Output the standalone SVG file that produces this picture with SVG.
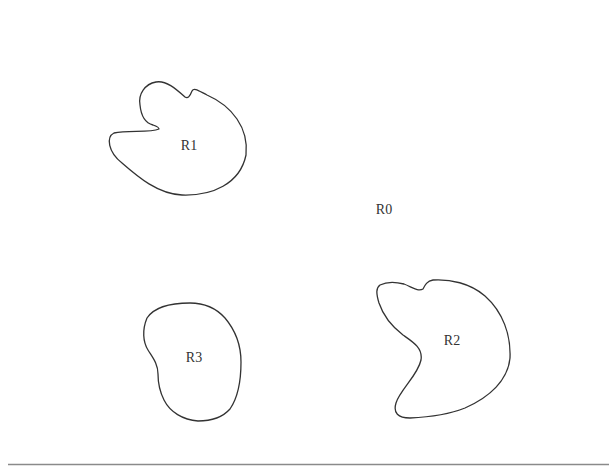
<svg xmlns="http://www.w3.org/2000/svg" width="609" height="466" viewBox="0 0 609 466">
<style>
.region{fill:none;stroke:#333;stroke-width:1.3;stroke-linejoin:round}
.lbl{font-family:"Liberation Serif","Times New Roman",serif;font-size:14px;fill:#333;text-anchor:middle}
</style>
<rect width="609" height="466" fill="#fff"/>
<g id="R0"><text class="lbl" x="384" y="214">R0</text></g>
<g id="R1">
<path class="region" d="M159,129 C150,133 128,130 114,133 C106,137 108,152 122,163 C138,177 158,194 182,195 C212,196 240,184 246,155 C249,128 232,106 207,95 C199,91 194,87 192,91 C190,96 188,99 185,97 C176,89 166,80 156,82 C145,84 138,94 140,105 C141,115 145,123 153,125 C156,126 159,127 159,129 Z"/>
<text class="lbl" x="189" y="150">R1</text>
</g>
<g id="R2">
<path class="region" d="M380,285 C388,281 396,282 404,284 C412,287 418,292 423,289 C425,285 427,281 433,280 C450,279 470,283 485,296 C503,312 511,335 510,358 C508,380 490,397 465,408 C450,414 432,417 410,418 C398,418 393,413 396,403 C400,390 418,375 421,360 C423,348 413,342 403,335 C390,325 383,315 379,303 C376,293 376,288 380,285 Z"/>
<text class="lbl" x="452" y="345">R2</text>
</g>
<g id="R3">
<path class="region" d="M190,303 C205,303 216,308 225,318 C236,331 241,345 241,362 C241,380 239,396 230,409 C222,418 211,421 198,421 C183,420 170,412 164,400 C159,390 158,382 158,374 C158,364 153,358 148,350 C143,342 142,330 147,318 C155,306 172,303 190,303 Z"/>
<text class="lbl" x="194" y="362">R3</text>
</g>
<line x1="8" y1="464.5" x2="609" y2="464.5" stroke="#8a8a8a" stroke-width="1.6"/>
</svg>
